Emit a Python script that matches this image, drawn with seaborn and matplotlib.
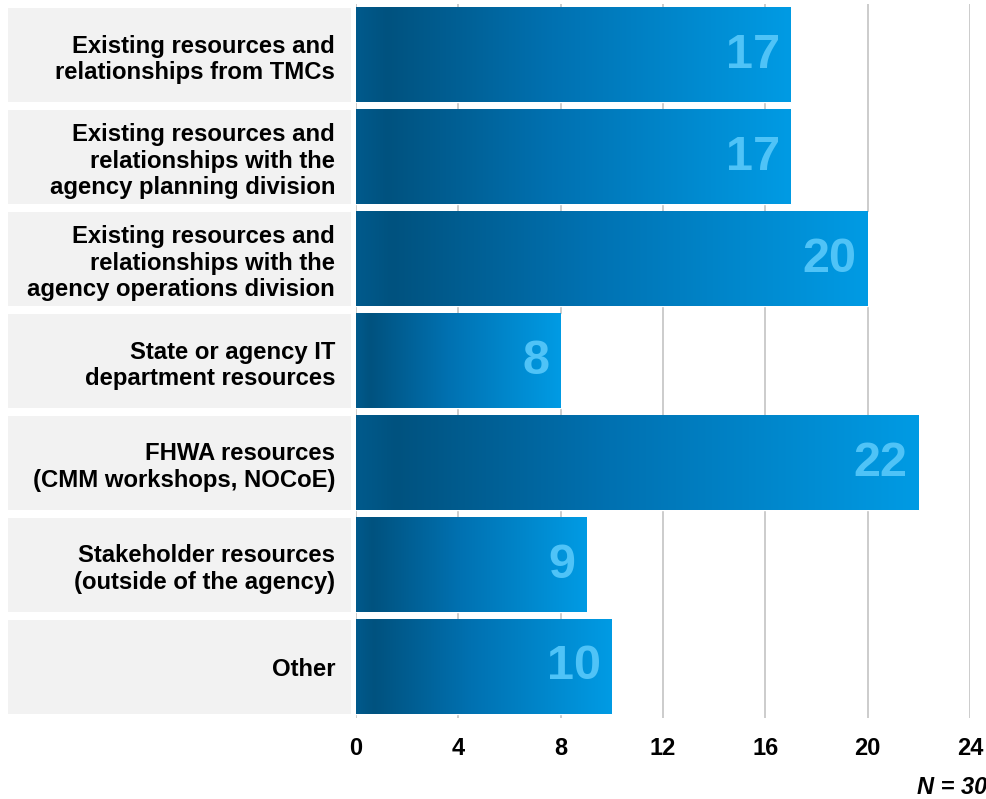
import numpy as np
import matplotlib
matplotlib.use("Agg")
import matplotlib.pyplot as plt
from matplotlib.colors import LinearSegmentedColormap
from matplotlib.patches import Rectangle
from matplotlib.transforms import blended_transform_factory
import seaborn as sns

categories = [
    "Existing resources and\nrelationships from TMCs",
    "Existing resources and\nrelationships with the\nagency planning division",
    "Existing resources and\nrelationships with the\nagency operations division",
    "State or agency IT\ndepartment resources",
    "FHWA resources\n(CMM workshops, NOCoE)",
    "Stakeholder resources\n(outside of the agency)",
    "Other",
]
counts = [17, 17, 20, 8, 22, 9, 10]
x_ticks = [0, 4, 8, 12, 16, 20, 24]
note = "N = 30"

sns.set_style("white")
plt.rcParams["font.family"] = ["Liberation Sans", "DejaVu Sans"]
plt.rcParams["font.weight"] = "bold"

fig = plt.figure(figsize=(9.86, 7.99), dpi=100)
ax = fig.add_axes([356 / 986, 1 - 718 / 799, 614 / 986, 714 / 799])

sns.barplot(x=counts, y=categories, orient="h", width=0.93,
            color="#0099e0", ax=ax, zorder=2)

ax.set_xlim(0, 24)
ax.set_ylim(6.5, -0.5)

# blue gradient fill, dark on the left and bright at each bar's end
bar_cmap = LinearSegmentedColormap.from_list(
    "bar_blue",
    [(0.0, "#005a8c"), (0.07, "#00527f"), (0.45, "#0071b1"), (1.0, "#009be4")],
)
grad = np.linspace(0, 1, 256).reshape(1, -1)
for patch in ax.patches:
    x0, y0 = patch.get_x(), patch.get_y()
    w, h = patch.get_width(), patch.get_height()
    ax.imshow(grad, cmap=bar_cmap, aspect="auto",
              extent=[x0, x0 + w, y0 + h, y0], zorder=3, interpolation="bicubic")
ax.set_xlim(0, 24)
ax.set_ylim(6.5, -0.5)
ax.set_aspect("auto")

# value labels inside the bar ends
for i, v in enumerate(counts):
    ax.annotate(str(v), xy=(v, i), xytext=(-8, 0), textcoords="offset points",
                ha="right", va="center", fontsize=35, fontweight="bold",
                color="#4fc3f7", zorder=5)

# light grey panels behind the category labels
trans = blended_transform_factory(ax.transAxes, ax.transData)
panel_x0 = (8 - 356) / 614
panel_w = (351 - 8) / 614
for i in range(len(categories)):
    ax.add_patch(Rectangle((panel_x0, i - 0.465), panel_w, 0.93,
                           transform=trans, facecolor="#f2f2f2",
                           edgecolor="none", clip_on=False, zorder=0))

ax.set_xticks(x_ticks)
ax.set_xticklabels([str(t) for t in x_ticks])
ax.grid(axis="x", color="#c8c8c8", linewidth=1.3, zorder=1)
ax.grid(axis="y", visible=False)
ax.set_axisbelow(True)
for s in ax.spines.values():
    s.set_visible(False)

ax.tick_params(axis="x", length=0, pad=14, labelsize=17)
ax.tick_params(axis="y", length=0, pad=15, labelsize=17.2)
for lab in ax.get_xticklabels() + ax.get_yticklabels():
    lab.set_fontweight("bold")
    lab.set_color("black")
for lab in ax.get_yticklabels():
    lab.set_linespacing(1.17)
ax.set_xlabel("")
ax.set_ylabel("")

fig.text(917 / 986, 1 - 788 / 799, note, ha="left", va="center",
         fontsize=17, fontweight="bold", fontstyle="italic", color="black")

fig.savefig("out.png", dpi=100)
